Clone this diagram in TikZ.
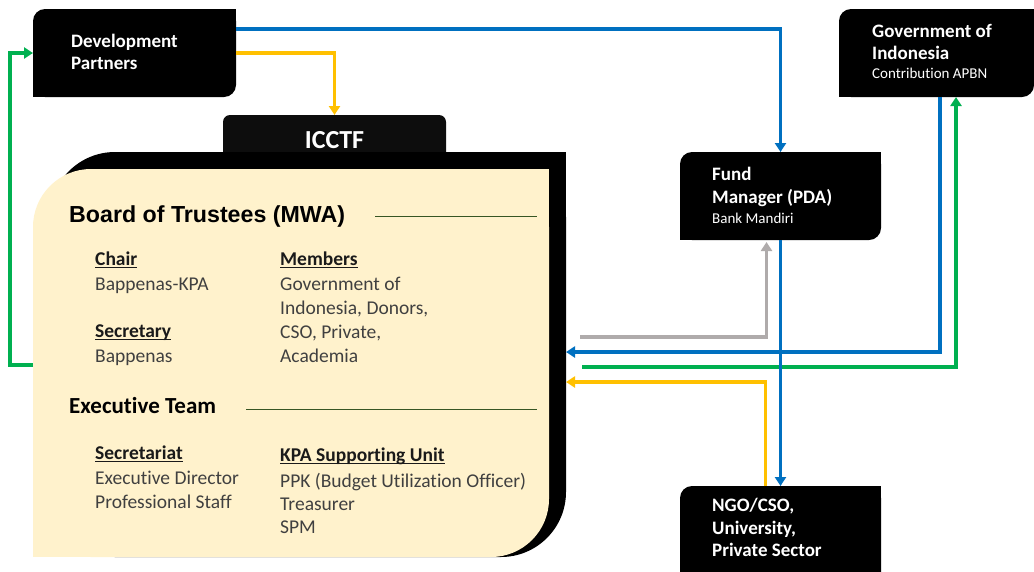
\documentclass[tikz,border=0pt]{standalone}
\usepackage{fontspec}
\setmainfont{Carlito}[Ligatures=NoCommon]
\newfontfamily\arialf{Liberation Sans}
\newsavebox{\myulbox}
\newcommand{\myul}[1]{\sbox{\myulbox}{#1}\mbox{\rlap{\rule[-2.8pt]{\wd\myulbox}{1.2pt}}\usebox{\myulbox}}}
\usetikzlibrary{arrows.meta}
\definecolor{cblue}{HTML}{0070C0}
\definecolor{cyellow}{HTML}{FFC000}
\definecolor{cgreen}{HTML}{00B050}
\definecolor{cgray}{HTML}{AFABAB}
\definecolor{cbeige}{HTML}{FFF2CC}
\definecolor{cdiv}{HTML}{375623}
\definecolor{cbody}{HTML}{404040}
\definecolor{chead}{HTML}{1A1A1A}
\definecolor{ctab}{HTML}{0D0D0D}
\tikzset{
  boxarea/.style={inner sep=0pt, outer sep=0pt, anchor=north west, draw=none},
  wt/.style={anchor=base west, inner sep=0pt, text=white, font=\bfseries\fontsize{19}{23}\selectfont},
  ws/.style={anchor=base west, inner sep=0pt, text=white, font=\fontsize{15}{18}\selectfont},
  bt/.style={anchor=base west, inner sep=0pt, text=cbody, font=\fontsize{19.5}{23}\selectfont},
  ht/.style={anchor=base west, inner sep=0pt, text=chead, font=\bfseries\fontsize{19.5}{23}\selectfont},
  arr/.style={line width=3.2pt, -{Triangle[length=9pt,width=11pt]}},
  divider/.style={cdiv, line width=1pt}
}
\begin{document}
\begin{tikzpicture}[x=1pt, y=-1pt]
\clip (0,0) rectangle (1034,571);
\fill[white] (0,0) rectangle (1034,571);

% ---- box areas (named nodes) ----
\node[boxarea, minimum width=203pt, minimum height=88pt] (dp) at (33,9) {};
\node[boxarea, minimum width=195pt, minimum height=88pt] (govt) at (839,9) {};
\node[boxarea, minimum width=201pt, minimum height=88pt] (fund) at (680,152) {};
\node[boxarea, minimum width=201pt, minimum height=100pt] (ngo) at (680,486) {};
\node[boxarea, minimum width=223pt, minimum height=38pt] (icctf) at (223,115) {};
\node[boxarea, minimum width=516pt, minimum height=405pt] (outer) at (50,152) {};
\node[boxarea, minimum width=516pt, minimum height=388pt] (panel) at (33,169) {};

% ---- black boxes ----
\fill[black, rounded corners=12pt] (dp.north west) rectangle (dp.south east);
\fill[black] (dp.north east) rectangle ++(-15,15);
\fill[black] (dp.south west) rectangle ++(15,-15);

\fill[black, rounded corners=12pt] (govt.north west) rectangle (govt.south east);
\fill[black] (govt.north east) rectangle ++(-15,15);
\fill[black] (govt.south west) rectangle ++(15,-15);

\fill[black, rounded corners=12pt] (fund.north west) rectangle (fund.south east);
\fill[black] (fund.north east) rectangle ++(-15,15);
\fill[black] (fund.south west) rectangle ++(15,-15);

\fill[black, rounded corners=12pt] (ngo.north west) rectangle (ngo.south east);
\fill[black] (ngo.north east) rectangle ++(-15,15);
\fill[black] (ngo.south west) rectangle ++(15,-15);

% ---- ICCTF tab and panel ----
\fill[ctab, rounded corners=7pt] (icctf.north west) rectangle ([yshift=-30pt]icctf.south east);
\fill[black, rounded corners=65pt] (outer.north west) rectangle (outer.south east);
\fill[black] (outer.north east) rectangle ++(-70,70);
\fill[black] (outer.south west) rectangle ++(70,-70);
\fill[cbeige, rounded corners=58pt] (panel.north west) rectangle (panel.south east);
\fill[cbeige] (panel.north east) rectangle ++(-60,60);
\fill[cbeige] (panel.south west) rectangle ++(60,-60);

% ---- box texts ----
\node[wt] (dp1) at (71,47) {Development};
\node[wt] (dp2) at (71,69) {Partners};
\node[wt] (gv1) at (872,37) {Government of};
\node[wt] (gv2) at (872,59) {Indonesia};
\node[ws] (gv3) at (872,78) {Contribution APBN};
\node[wt] (fm1) at (712,180) {Fund};
\node[wt] (fm2) at (712,203) {Manager (PDA)};
\node[ws] (fm3) at (712,223) {Bank Mandiri};
\node[wt] (ng1) at (712,511) {NGO/CSO,};
\node[wt] (ng2) at (712,534) {University,};
\node[wt] (ng3) at (712,556) {Private Sector};
\node[anchor=base, inner sep=0pt, text=white, font=\bfseries\fontsize{26}{30}\selectfont] (ict) at (334.5,148) {ICCTF};

% ---- panel texts ----
\node[anchor=base west, inner sep=0pt, text=black, font=\arialf\bfseries\fontsize{23.2}{27}\selectfont] (bot) at (69,222) {Board of Trustees (MWA)};
\draw[divider] (375,216) -- (537,216);
\node[ht] (chair) at (95,265) {\myul{Chair}};
\node[bt] (chair1) at (95,290) {Bappenas-KPA};
\node[ht] (secy) at (95,337) {\myul{Secretary}};
\node[bt] (secy1) at (95,362) {Bappenas};
\node[ht] (mem) at (280,265) {\myul{Members}};
\node[bt] (mem1) at (280,290) {Government of};
\node[bt] (mem2) at (280,314) {Indonesia, Donors,};
\node[bt] (mem3) at (280,338) {CSO, Private,};
\node[bt] (mem4) at (280,362) {Academia};
\node[anchor=base west, inner sep=0pt, text=black, font=\bfseries\fontsize{23}{27}\selectfont] (ext) at (69,413) {Executive Team};
\draw[divider] (246,409) -- (537,409);
\node[ht] (sec) at (95,459) {\myul{Secretariat}};
\node[bt] (sec1) at (95,484) {Executive Director};
\node[bt] (sec2) at (95,508) {Professional Staff};
\node[ht] (kpa) at (280,461) {\myul{KPA Supporting Unit}};
\node[bt] (kpa1) at (280,487) {PPK (Budget Utilization Officer)};
\node[bt] (kpa2) at (280,510) {Treasurer};
\node[bt] (kpa3) at (280,533) {SPM};

% ---- connectors ----
\coordinate (gstart) at (580,337);
\coordinate (grstart) at (582,367);
\draw[arr, cblue] ([yshift=24pt]dp.east) -| (fund.north);
\draw[arr, cyellow] (dp.east) -| (icctf.north);
\draw[arr, cgreen] ([yshift=-2pt]panel.west) -- ++(-23,0) |- (dp.west);
\draw[arr, cgray, shorten >=2pt] (gstart) -| ([xshift=-14pt]fund.south);
\draw[arr, cblue] ([xshift=3.5pt]govt.south) |- ([yshift=2.5pt]outer.east);
\draw[arr, cgreen] (grstart) -| ([xshift=19.5pt]govt.south);
\draw[arr, cyellow] ([xshift=-15pt]ngo.north) |- ([yshift=-27.5pt]outer.east);
\draw[arr, cblue] (fund.south) -- (ngo.north);
\end{tikzpicture}
\end{document}
